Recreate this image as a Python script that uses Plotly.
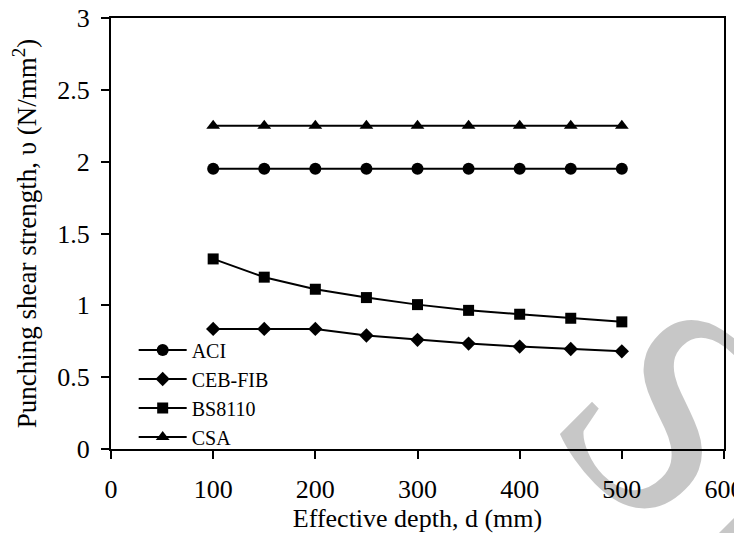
import plotly.graph_objects as go

depth = [100, 150, 200, 250, 300, 350, 400, 450, 500]
aci = [1.95, 1.95, 1.95, 1.95, 1.95, 1.95, 1.95, 1.95, 1.95]
ceb_fib = [0.836, 0.836, 0.836, 0.79, 0.76, 0.734, 0.713, 0.696, 0.68]
bs8110 = [1.323, 1.196, 1.112, 1.054, 1.005, 0.965, 0.938, 0.91, 0.885]
csa = [2.25, 2.25, 2.25, 2.25, 2.25, 2.25, 2.25, 2.25, 2.25]

x_ticks = [0, 100, 200, 300, 400, 500, 600]
y_ticks = [0, 0.5, 1, 1.5, 2, 2.5, 3]

FONT = "Liberation Serif"

series = [
    ("ACI", aci, "circle", 12),
    ("CEB-FIB", ceb_fib, "diamond", 11),
    ("BS8110", bs8110, "square", 11),
    ("CSA", csa, "triangle-up", 12),
]

fig = go.Figure()
for name, vals, sym, size in series:
    fig.add_trace(go.Scatter(
        x=depth, y=vals, name=name, mode="lines+markers",
        line=dict(color="black", width=2),
        marker=dict(symbol=sym, size=size, color="black"),
    ))

# watermark of the source page
fig.add_annotation(
    text="SID", xref="paper", yref="paper", x=1.095, y=-0.174,
    xanchor="center", yanchor="middle", showarrow=False, textangle=45,
    font=dict(family=FONT, size=300, color="rgba(0,0,0,0.22)"),
)

# page body has an 8px margin, so the figure is sized to fit the 742x533 window
fig.update_layout(
    width=734, height=525,
    margin=dict(l=103, r=18, t=10, b=84),
    paper_bgcolor="white", plot_bgcolor="white",
    font=dict(family=FONT, color="black", size=24),
    showlegend=True,
    legend=dict(
        x=0.037, y=0.275, xanchor="left", yanchor="top",
        bgcolor="rgba(0,0,0,0)", font=dict(size=20, family=FONT, color="black"),
        itemwidth=48, tracegroupgap=0,
    ),
    xaxis=dict(
        range=[0, 600], tickvals=x_ticks, ticktext=[str(v) for v in x_ticks],
        showgrid=False, zeroline=False, automargin=False,
        showline=True, linecolor="black", linewidth=2, mirror=True,
        ticks="outside", ticklen=8, tickwidth=1.5, tickcolor="black",
        ticklabelstandoff=8, ticklabeloverflow="allow",
        tickfont=dict(size=26, family=FONT, color="black"),
        title=dict(text="Effective depth, d (mm)", font=dict(size=26, family=FONT, color="black"), standoff=9),
    ),
    yaxis=dict(
        range=[0, 3], tickvals=y_ticks, ticktext=["0", "0.5", "1", "1.5", "2", "2.5", "3"],
        showgrid=False, zeroline=False, automargin=False,
        showline=True, linecolor="black", linewidth=2, mirror=True,
        ticks="outside", ticklen=8, tickwidth=1.5, tickcolor="black",
        ticklabelstandoff=6, ticklabeloverflow="allow",
        tickfont=dict(size=26, family=FONT, color="black"),
        title=dict(text="Punching shear strength, υ (N/mm<sup>2</sup>)", font=dict(size=27, family=FONT, color="black"), standoff=15),
    ),
)

fig.write_html("out.html")
